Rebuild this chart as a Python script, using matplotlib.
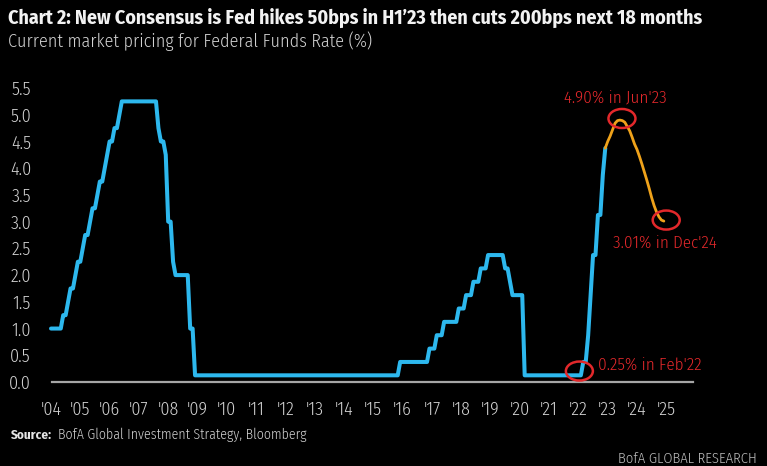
import matplotlib
matplotlib.use("Agg")
import matplotlib.pyplot as plt
from matplotlib.patches import Ellipse

FONT = ['Fira Sans Condensed', 'DejaVu Sans']
plt.rcParams['font.family'] = FONT

# ---- data: month-end fed funds rate (target / midpoint of range), %
hist_years = [2004, 2005, 2006, 2007, 2008, 2009, 2010, 2011, 2012, 2013, 2014,
              2015, 2016, 2017, 2018, 2019, 2020, 2021, 2022]
hist_values = [
    [1.0, 1.0, 1.0, 1.0, 1.0, 1.25, 1.25, 1.5, 1.75, 1.75, 2.0, 2.25],        # 2004
    [2.25, 2.5, 2.75, 2.75, 3.0, 3.25, 3.25, 3.5, 3.75, 3.75, 4.0, 4.25],     # 2005
    [4.5, 4.5, 4.75, 4.75, 5.0, 5.25, 5.25, 5.25, 5.25, 5.25, 5.25, 5.25],    # 2006
    [5.25, 5.25, 5.25, 5.25, 5.25, 5.25, 5.25, 5.25, 4.75, 4.5, 4.5, 4.25],   # 2007
    [3.0, 3.0, 2.25, 2.0, 2.0, 2.0, 2.0, 2.0, 2.0, 1.0, 1.0, 0.125],          # 2008
    [0.125] * 12,                                                             # 2009
    [0.125] * 12,                                                             # 2010
    [0.125] * 12,                                                             # 2011
    [0.125] * 12,                                                             # 2012
    [0.125] * 12,                                                             # 2013
    [0.125] * 12,                                                             # 2014
    [0.125, 0.125, 0.125, 0.125, 0.125, 0.125, 0.125, 0.125, 0.125, 0.125, 0.125, 0.375],  # 2015
    [0.375, 0.375, 0.375, 0.375, 0.375, 0.375, 0.375, 0.375, 0.375, 0.375, 0.375, 0.625],  # 2016
    [0.625, 0.625, 0.875, 0.875, 0.875, 1.125, 1.125, 1.125, 1.125, 1.125, 1.125, 1.375],  # 2017
    [1.375, 1.375, 1.625, 1.625, 1.625, 1.875, 1.875, 1.875, 2.125, 2.125, 2.125, 2.375],  # 2018
    [2.375, 2.375, 2.375, 2.375, 2.375, 2.375, 2.125, 2.125, 1.875, 1.625, 1.625, 1.625],  # 2019
    [1.625, 1.625, 0.125, 0.125, 0.125, 0.125, 0.125, 0.125, 0.125, 0.125, 0.125, 0.125],  # 2020
    [0.125] * 12,                                                             # 2021
    [0.125, 0.125, 0.375, 0.375, 0.875, 1.625, 2.375, 2.375, 3.125, 3.125, 3.875, 4.375],  # 2022
]

# market pricing (forecast), Dec-22 .. Dec-24
fcst_start = (2022, 12)
fcst_values = [4.375, 4.50, 4.60, 4.72, 4.84, 4.89, 4.90, 4.89, 4.86, 4.78, 4.70,
               4.58, 4.45, 4.35, 4.22, 4.08, 3.93, 3.78, 3.62, 3.45, 3.30, 3.18,
               3.09, 3.03, 3.01]

y_ticks = [0.0, 0.5, 1.0, 1.5, 2.0, 2.5, 3.0, 3.5, 4.0, 4.5, 5.0, 5.5]
x_tick_years = list(range(2004, 2026))
x_tick_labels = ["'%02d" % (y % 100) for y in x_tick_years]

annotations = [
    ("4.90% in Jun'23", (2023, 6), 4.90),
    ("3.01% in Dec'24", (2024, 12), 3.01),
    ("0.25% in Feb'22", (2022, 2), 0.125),
]

title = "Chart 2: New Consensus is Fed hikes 50bps in H1\u201923 then cuts 200bps next 18 months"
subtitle = "Current market pricing for Federal Funds Rate (%)"

# ---- build x positions
hist_x = []
hist_y = []
for yr, vals in zip(hist_years, hist_values):
    for m, v in enumerate(vals):
        hist_x.append(yr + m / 12.0)
        hist_y.append(v)
fy, fm_ = fcst_start
fcst_x = [fy + (fm_ - 1 + i) / 12.0 for i in range(len(fcst_values))]

def mx(ym):
    return ym[0] + (ym[1] - 1) / 12.0

# ---- figure
W, H = 767, 466
fig = plt.figure(figsize=(W / 100, H / 100), dpi=100, facecolor='black')
L, R, B, T = 45, 700, 390, 75
ax = fig.add_axes([L / W, (H - B) / H, (R - L) / W, (B - T) / H], facecolor='black')

pxx = 29.3
ax.set_xlim(2004 + (L - 51) / pxx, 2004 + (R - 51) / pxx)
pxy = 53.45
ax.set_ylim(-(B - 382) / pxy, (382 - T) / pxy)

BLUE = '#2db8ee'
ORANGE = '#efa21a'
RED = '#e3282b'
GREY = '#d2d2d2'

ax.axhline(0, xmin=0.01, xmax=0.99, color='#a6a6a6', lw=1.6, zorder=1)
ax.plot(hist_x, hist_y, color=BLUE, lw=2.9, solid_joinstyle='round', solid_capstyle='round', zorder=3)
ax.plot(fcst_x, fcst_values, color=ORANGE, lw=2.0, solid_joinstyle='round', solid_capstyle='round', zorder=3)

for s in ax.spines.values():
    s.set_visible(False)
ax.set_yticks(y_ticks)
ax.set_yticklabels(["%.1f" % v for v in y_ticks])
ax.set_xticks(x_tick_years)
ax.set_xticklabels(x_tick_labels)
ax.tick_params(axis='both', length=0, colors=GREY, labelsize=13)
for lab in ax.get_xticklabels() + ax.get_yticklabels():
    lab.set_fontweight(300)
ax.tick_params(axis='y', pad=10)
ax.tick_params(axis='x', pad=8)

# ellipses + labels
ew, eh = 27 / pxx, 19 / pxy
(t1, d1, v1), (t2, d2, v2), (t3, d3, v3) = annotations
for d, v, dx, dy in [(d1, v1, 0.07, 0.03), (d2, v2, 0.08, 0.02), (d3, v3, -0.05, 0.08)]:
    ax.add_patch(Ellipse((mx(d) + dx, v + dy), ew, eh, fill=False, ec=RED, lw=1.8, zorder=4))
ax.text(mx(d1) - 0.15, v1 + 0.41, t1, color=RED, fontsize=12.3, fontweight=300, ha='center', va='center')
ax.text(mx(d2) + 0.05, v2 - 0.42, t2, color=RED, fontsize=12.3, fontweight=300, ha='center', va='center')
ax.text(mx(d3) + 0.6, v3 + 0.2, t3, color=RED, fontsize=12.3, fontweight=300, ha='left', va='center')

# titles and footer
fig.text(8 / W, 1 - 18 / H, title, color='#f2f2f2', fontsize=14.3, fontweight='bold', ha='left', va='center')
fig.text(8 / W, 1 - 41 / H, subtitle, color=GREY, fontsize=13, fontweight=300, ha='left', va='center')
fig.text(11 / W, 1 - 435 / H, "Source:", color='#e6e6e6', fontsize=9.5, fontweight='bold', ha='left', va='center')
fig.text(58 / W, 1 - 435 / H, "BofA Global Investment Strategy, Bloomberg", color=GREY, fontsize=10, fontweight=300, ha='left', va='center')
fig.text(757 / W, 1 - 459 / H, "BofA GLOBAL RESEARCH", color='#bdbdbd', fontsize=10.5, fontweight=300, ha='right', va='center')

fig.savefig('out.png', dpi=100, facecolor='black')
